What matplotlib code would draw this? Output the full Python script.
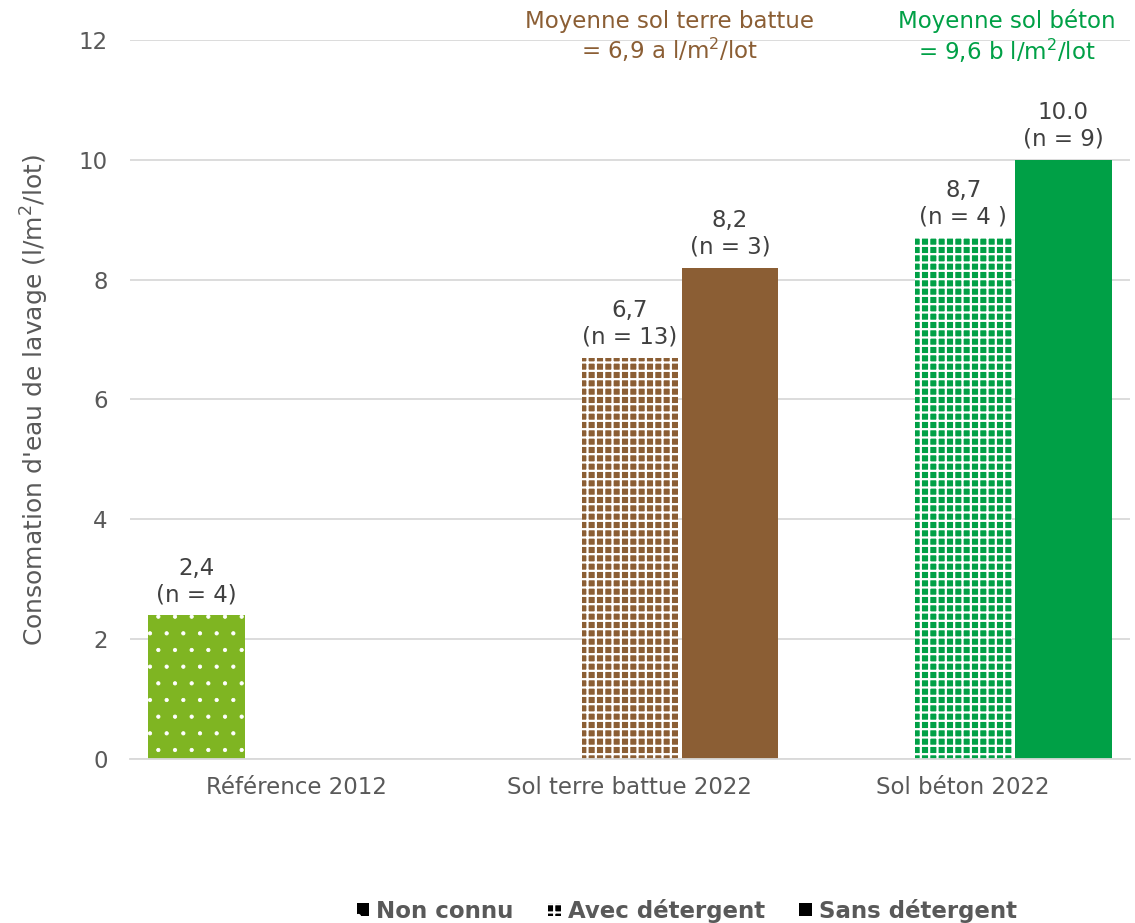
import numpy as np
import matplotlib.pyplot as plt
from matplotlib.patches import Patch

categories = ['Référence 2012', 'Sol terre battue 2022', 'Sol béton 2022']
non_connu = [2.4, 0, 0]
avec = [0, 6.7, 8.7]
sans = [0, 8.2, 10.0]
labels_non_connu = ['2,4\n(n = 4)', '', '']
labels_avec = ['', '6,7\n(n = 13)', '8,7\n(n = 4 )']
labels_sans = ['', '8,2\n(n = 3)', '10.0\n(n = 9)']
colors = ['#7FB522', '#8B5E34', '#00A046']
moyennes = ['Moyenne sol terre battue\n= 6,9 a l/m$^2$/lot', 'Moyenne sol béton\n= 9,6 b l/m$^2$/lot']

plt.rcParams['font.family'] = ['DejaVu Sans']
plt.rcParams['hatch.linewidth'] = 1.6

fig = plt.figure(figsize=(11.35, 9.23), dpi=100)
ax = fig.add_axes([0.1145, 0.1777, 0.881, 0.779])

x = np.arange(len(categories))
w = 0.29
step = 0.3
fs = 16.5


def set_hlw(bars, lw):
    for b in bars:
        if hasattr(b, 'set_hatch_linewidth'):
            b.set_hatch_linewidth(lw)


for i in range(len(categories)):
    if non_connu[i] > 0:
        bars = ax.bar(x[i] - step, non_connu[i], w, color=colors[i], hatch='.', edgecolor='white', linewidth=0)
        set_hlw(bars, 0.6)
        ax.text(x[i] - step, non_connu[i] + 0.15, labels_non_connu[i], ha='center', va='bottom',
                fontsize=fs, color='#404040', linespacing=1.2)
    if avec[i] > 0:
        bars = ax.bar(x[i], avec[i], w, color=colors[i], hatch='++', edgecolor='white', linewidth=0)
        set_hlw(bars, 1.6)
        ax.text(x[i], avec[i] + 0.15, labels_avec[i], ha='center', va='bottom',
                fontsize=fs, color='#404040', linespacing=1.2)
    if sans[i] > 0:
        ax.bar(x[i] + step, sans[i], w, color=colors[i], edgecolor='none')
        ax.text(x[i] + step, sans[i] + 0.15, labels_sans[i], ha='center', va='bottom',
                fontsize=fs, color='#404040', linespacing=1.2)

ax.text(1.12, 12.05, moyennes[0], ha='center', va='center', fontsize=fs, color='#8B5E34', linespacing=1.15)
ax.text(2.13, 12.05, moyennes[1], ha='center', va='center', fontsize=fs, color='#00A046', linespacing=1.15)

ax.set_xlim(-0.5, 2.5)
ax.set_ylim(0, 12)
ax.set_yticks([0, 2, 4, 6, 8, 10, 12])
ax.set_xticks(x)
ax.set_xticklabels(categories)
ax.tick_params(axis='both', length=0, labelsize=fs, labelcolor='#595959')
ax.tick_params(axis='x', pad=12)
ax.tick_params(axis='y', pad=16)
ax.grid(axis='y', color='#d9d9d9', linewidth=1.3)
ax.set_axisbelow(True)
for s in ['top', 'right', 'left']:
    ax.spines[s].set_visible(False)
ax.spines['bottom'].set_color('#d9d9d9')
ax.spines['bottom'].set_linewidth(1.3)
ax.set_ylabel("Consomation d'eau de lavage (l/m$^2$/lot)", fontsize=18, color='#595959', labelpad=20)

handles = [Patch(facecolor='black', hatch='.', edgecolor='white', linewidth=0, label='Non connu'),
           Patch(facecolor='black', hatch='++', edgecolor='white', linewidth=0, label='Avec détergent'),
           Patch(facecolor='black', label='Sans détergent')]
fig.legend(handles=handles, loc='lower center', bbox_to_anchor=(0.605, -0.022), ncol=3, frameon=False,
           prop={'weight': 'bold', 'size': fs}, labelcolor='#595959', handlelength=0.55, handleheight=0.55,
           handletextpad=0.3, columnspacing=1.5)

fig.savefig('out.png', dpi=100)
